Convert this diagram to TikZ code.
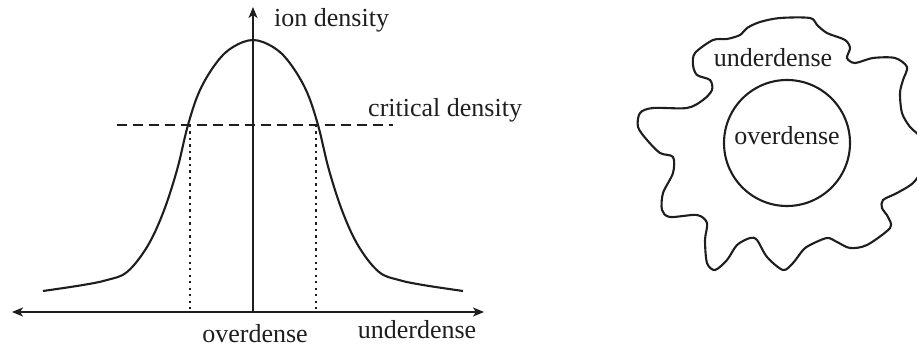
\documentclass[tikz,border=0pt]{standalone}
\usepackage{fontspec}
\setmainfont{Liberation Serif}
\usetikzlibrary{positioning, calc, arrows.meta}
\definecolor{Ink}{HTML}{1E1E1E}
\tikzset{
    axis/.style={{Stealth[length=11pt,width=9pt,inset=3pt]}-{Stealth[length=11pt,width=9pt,inset=3pt]}, line width=2.2pt, color=Ink},
    upaxis/.style={-{Stealth[length=11pt,width=9pt,inset=3pt]}, line width=2.2pt, color=Ink},
    curve/.style={line width=2.1pt, color=Ink},
    critical/.style={line width=1.8pt, color=Ink, dash pattern=on 10pt off 6pt},
    guide/.style={line width=2pt, color=Ink, dash pattern=on 2.2pt off 4.3pt},
    tag/.style={inner sep=0pt, text=Ink, font=\fontsize{26}{30}\selectfont},
}

\begin{document}
\begin{tikzpicture}[x=1pt, y=-1pt]
    \useasboundingbox (0,0) rectangle (917,347);
    \clip (0,0) rectangle (917,347);

    % Axes
    \coordinate (origin) at (253,312);
    \coordinate (xleft) at (12,312);
    \coordinate (xright) at (484,312);
    \coordinate (ytop) at (253,7);
    \draw[axis] (xleft) -- (xright);
    \draw[upaxis] (origin) -- (ytop);

    % Ion density profile
    \draw[curve] plot[smooth, tension=0.6] coordinates {
        (43,291) (83,285) (107,280) (127,272) (147,247) (163,213) (177,170)
        (188,125) (200,90) (217,62) (233,47) (253,40) (273,47) (289,62)
        (306,90) (318,125) (329,170) (343,213) (359,247) (379,272)
        (399,280) (423,285) (463,291)};

    % Critical density level
    \coordinate (critleft) at (117,125);
    \coordinate (critright) at (393,125);
    \draw[critical] (critleft) -- (critright);

    % Crossings dropped to the axis
    \coordinate (crossl) at (190,125);
    \coordinate (crossr) at (316,125);
    \coordinate (footl) at (190,312);
    \coordinate (footr) at (316,312);
    \draw[guide] (crossl) -- (footl);
    \draw[guide] (crossr) -- (footr);

    % Labels
    \node[tag, anchor=base west] (iondens) at (274,27) {ion density};
    \node[tag, anchor=base west] (critdens) at (368,117) {critical density};
    \node[tag, anchor=base, text depth=0pt] (overlab) at (255,342) {overdense};
    \node[tag, anchor=base] (underlab) at (417,338) {underdense};

    % Plasma cloud
    \draw[curve] plot[smooth cycle, tension=0.5] coordinates {
        (713,40) (727,39) (740,35) (747,28) (760,22) (780,18) (810,18)
        (817,25) (827,33) (845,40) (850,48) (847,58) (855,63) (873,58)
        (895,58) (907,67) (903,80) (900,93) (902,113) (910,127) (922,140)
        (922,168) (913,183) (897,193) (883,200) (882,208) (888,217)
        (890,228) (867,245) (850,248) (837,242) (827,238) (810,245)
        (803,250) (793,263) (783,270) (767,257) (757,240) (750,238)
        (737,245) (727,260) (715,270) (707,263) (705,240) (707,223)
        (697,215) (670,217) (662,210) (663,193) (673,173) (673,157)
        (660,153) (647,140) (638,127) (640,113) (653,108) (687,108)
        (703,100) (712,90) (710,80) (697,75) (693,65) (695,53)};
    \node[tag, draw=Ink, line width=2.1pt, circle, minimum size=126pt] (core) at (787,143) {};
    \node[tag, anchor=base] (coreoverlab) at (787,145) {overdense};
    \node[tag, anchor=base] (cloudunderlab) at (773,67) {underdense};
\end{tikzpicture}
\end{document}
